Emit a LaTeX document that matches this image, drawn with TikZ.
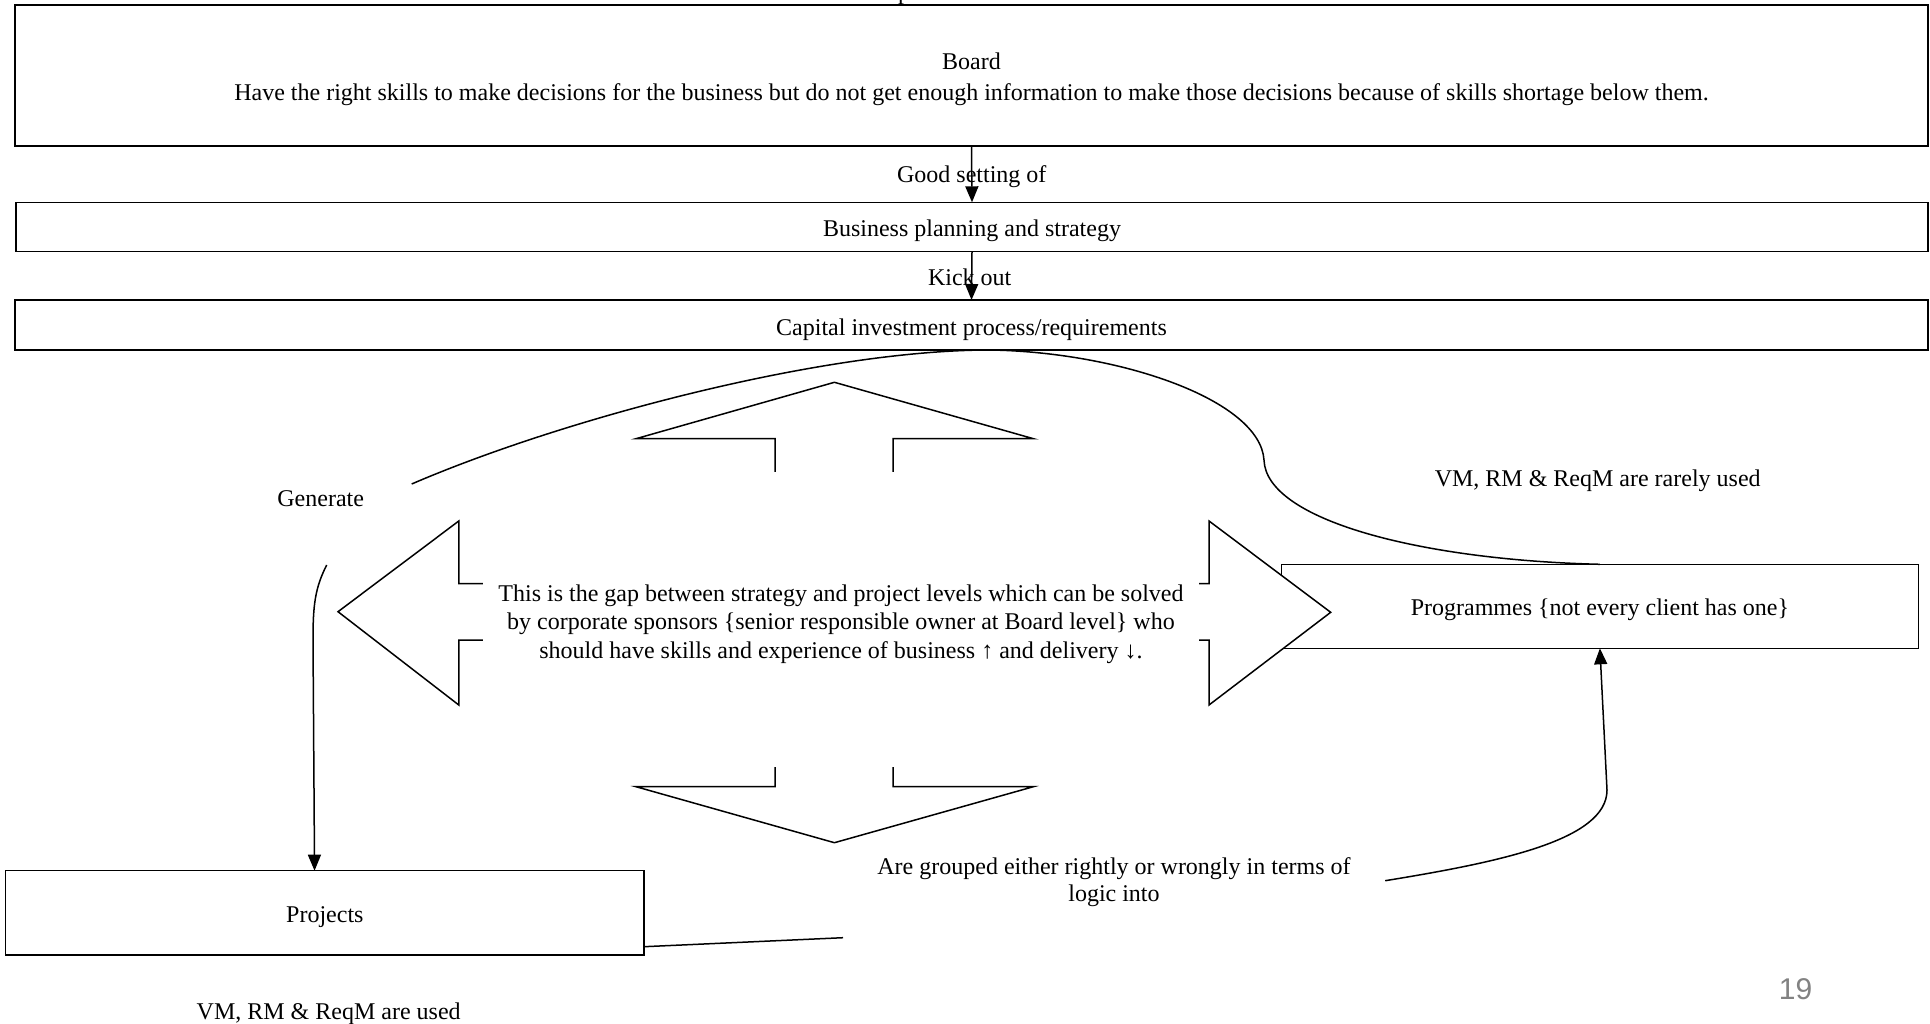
\documentclass[tikz,border=0pt]{standalone}
\usepackage{fontspec}
\setmainfont{Liberation Serif}
\newfontfamily\numfont{Liberation Sans}
\usetikzlibrary{arrows.meta}
\definecolor{pagenum}{RGB}{130,130,130}
\begin{document}
\begin{tikzpicture}[x=1pt,y=-1pt,
  font=\fontsize{24}{28.7}\selectfont,
  every node/.style={inner sep=0pt, outer sep=0pt},
  box/.style={draw, line width=1.5pt},
  oneline/.style={text height=#1, text depth=0pt},
  oneline/.default=16pt,
  link/.style={line width=1.5pt},
  flow/.style={link, -{Triangle[length=16pt,width=13pt]}},
  block/.style={line width=1.5pt, fill=white, line join=miter},
]
\useasboundingbox (0,0) rectangle (1930,1024);
\clip (0,0) rectangle (1930,1024);

% heading line, cut off by the top edge
\node[anchor=base west] (title) at (898,-0.5) {p};

% levels
\node[box, minimum width=1913pt, minimum height=141pt] (board) at (971.5,75.5)
  {\begin{tabular}{@{}c@{}}\rule{0pt}{28pt}Board\\[2.3pt]Have the right skills to make decisions for the business but do not get enough information to make those decisions because of skills shortage below them.\end{tabular}};
\node[box, oneline=20pt, minimum width=1912pt, minimum height=49.4pt] (biz) at (972,227) {Business planning and strategy};
\node[box, oneline=20pt, minimum width=1913pt, minimum height=50pt] (cap) at (971.5,325) {Capital investment process/requirements};
\node[box, oneline=19pt, minimum width=636.8pt, minimum height=84pt] (prog) at (1599.9,606.3) {Programmes \{not every client has one\}};
\node[box, oneline=19pt, minimum width=638.3pt, minimum height=84.3pt] (proj) at (324.85,912.85) {Projects};

\draw[flow] (board.south) -- (biz.north) node[midway, oneline] (lgood) {Good setting of};
\draw[flow] (biz.south) -- (cap.north) node[pos=0.54, xshift=-2pt, oneline] (lkick) {Kick out};

% four-way block arrow with the gap statement in its centre
\draw[block]
  (834.4,382.3) -- (1033.4,438.7) -- (893,438.7) -- (893,583.5) -- (1209,583.5)
  -- (1209,521) -- (1330.7,612.3) -- (1209,705) -- (1209,640) -- (893,640)
  -- (893,786.7) -- (1033.4,786.7) -- (834.4,842.7) -- (636,786.7) -- (775,786.7)
  -- (775,640) -- (458.8,640) -- (458.8,705) -- (338,611.7) -- (458.8,521)
  -- (458.8,583.5) -- (775,583.5) -- (775,438.7) -- (636,438.7) -- cycle;
\node[fill=white, minimum width=716pt, minimum height=294.7pt] (gap) at (841,619.7)
  {\begin{tabular}{@{}c@{}}\rule{0pt}{29.2pt}This is the gap between strategy and project levels which can be solved\\
   by corporate sponsors \{senior responsible owner at Board level\} who\\
   should have skills and experience of business ↑ and delivery ↓.\end{tabular}};

% capital investment generates projects
\node[oneline] (gen) at (320.7,498) {Generate};
\coordinate (genA) at (411.7,484);
\coordinate (genB) at (326.7,565);
\draw[link] ([xshift=18.5pt]cap.south) .. controls (820,350) and (560,420) .. (genA);
\draw[flow] (genB) .. controls (315,588) and (313,605) .. (313,640) -- ([xshift=-10.3pt]proj.north);

% capital investment to programmes
\draw[link] ([xshift=18.5pt]cap.south) .. controls (1120,352) and (1260,400) .. (1264,460)
  .. controls (1266,520) and (1420,560) .. (prog.north);
\node[oneline] (rare) at (1597.7,478) {VM, RM \& ReqM are rarely used};

% projects grouped into programmes
\node (grp) at (1114,882.6)
  {\begin{tabular}{@{}c@{}}Are grouped either rightly or wrongly in terms of\\[-1.4pt]logic into\end{tabular}};
\coordinate (grpA) at (843,937.7);
\coordinate (grpB) at (1385.2,880.7);
\draw[link] ([yshift=8.3pt]proj.south east) -- (grpA);
\draw[flow] (grpB) .. controls (1500,862) and (1607,840) .. (1607,790) -- (prog.south);

\node[oneline] (used) at (328.7,1011.7) {VM, RM \& ReqM are used};

% slide number
\node[text=pagenum, font=\numfont\fontsize{30}{36}\selectfont] (pnum) at (1795.5,989) {19};
\end{tikzpicture}
\end{document}
